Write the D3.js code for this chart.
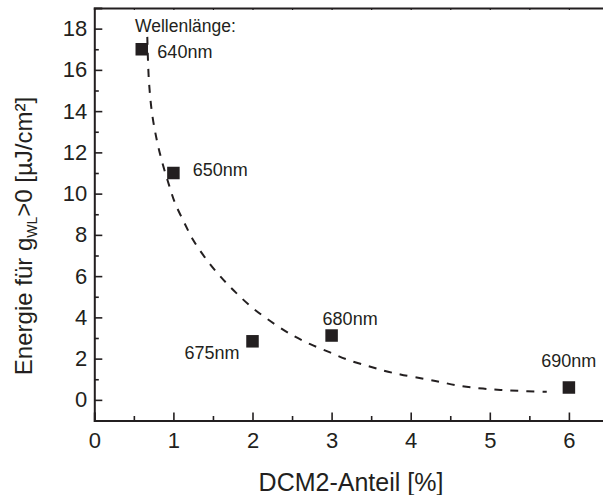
<!DOCTYPE html>
<html>
<head>
<meta charset="utf-8">
<script src="https://cdn.jsdelivr.net/npm/d3@7"></script>
<style>
  html, body { margin: 0; padding: 0; background: #fff; }
  svg { display: block; font-family: "Liberation Sans", Arial, sans-serif; }
</style>
</head>
<body>
<svg id="chart" width="603" height="495"></svg>
<script>
// ---- data ----
const dcm2 = [0.6, 1, 2, 3, 6];                 // DCM2-Anteil [%]
const energy = [17, 11, 2.84, 3.12, 0.6];       // Energie [µJ/cm²]
const wavelengths = ["640nm", "650nm", "675nm", "680nm", "690nm"];
const legendTitle = "Wellenlänge:";

// dashed fit curve
const fitX = [0.67, 0.69, 0.73, 0.79, 0.86, 0.95, 1.02, 1.13, 1.25, 1.40, 1.59, 1.79, 2.02, 2.29, 2.52, 2.73, 2.98, 3.20, 3.45, 3.66, 3.87, 4.17, 4.38, 4.59, 4.80, 5.03, 5.24, 5.47, 5.72];
const fitY = [17.6, 15.5, 13.9, 12.6, 11.5, 10.35, 9.55, 8.65, 7.75, 6.9, 6.0, 5.2, 4.4, 3.65, 3.1, 2.7, 2.3, 1.95, 1.65, 1.42, 1.23, 1.02, 0.86, 0.70, 0.59, 0.51, 0.46, 0.42, 0.39];

const xTicks = [0, 1, 2, 3, 4, 5, 6];
const yTicks = [0, 2, 4, 6, 8, 10, 12, 14, 16, 18];

const xTitle = "DCM2-Anteil [%]";

// ---- layout ----
const svg = d3.select("#chart");
const plotLeft = 94.3, plotTop = 8, plotBottom = 420.5;
const pxPerX = 79.1;
const x = d3.scaleLinear().domain([0, 6.5]).range([plotLeft, plotLeft + 6.5 * pxPerX]);
const y = d3.scaleLinear().domain([-1, 19]).range([plotBottom, plotTop]);

const ink = "#231f20";
const labelOffsets = [
  {dx: 15.6, dy: 9, anchor: "start"},
  {dx: 19.4, dy: 2.8, anchor: "start"},
  {dx: -13, dy: 17.3, anchor: "end"},
  {dx: -9, dy: -10.7, anchor: "start"},
  {dx: -27.6, dy: -21, anchor: "start"}
];

// minor tick arrays
const xMinor = d3.range(0, 6.51, 0.5).filter(v => !xTicks.includes(v));
const yMinor = d3.range(-1, 19.01, 1).filter(v => !yTicks.includes(v) && v > -1 && v < 19);

// bottom axis
const gx = svg.append("g").attr("transform", `translate(0,${plotBottom})`)
  .call(d3.axisBottom(x).tickValues(xTicks).tickFormat(d3.format("d")).tickSize(-8).tickPadding(12));
gx.select(".domain").attr("stroke", ink).attr("stroke-width", 2);
gx.selectAll(".tick line").attr("stroke", ink).attr("stroke-width", 1.6);
gx.selectAll(".tick text").attr("fill", ink).attr("font-size", 22)
  .attr("font-family", "Liberation Sans, Arial, sans-serif");
svg.append("g").attr("transform", `translate(0,${plotBottom})`)
  .call(d3.axisBottom(x).tickValues(xMinor).tickFormat("").tickSize(-4.5))
  .call(g => g.select(".domain").remove())
  .call(g => g.selectAll("line").attr("stroke", ink).attr("stroke-width", 1.6));

// top axis
const gt = svg.append("g").attr("transform", `translate(0,${plotTop})`)
  .call(d3.axisTop(x).tickValues(d3.range(0, 6.51, 0.5)).tickFormat("").tickSize(-2));
gt.select(".domain").attr("stroke", ink).attr("stroke-width", 2);
gt.selectAll("line").attr("stroke", ink).attr("stroke-width", 1.2);

// left axis
const gy = svg.append("g").attr("transform", `translate(${plotLeft},0)`)
  .call(d3.axisLeft(y).tickValues(yTicks).tickFormat(d3.format("d")).tickSize(-8).tickPadding(7));
gy.select(".domain").attr("stroke", ink).attr("stroke-width", 2);
gy.selectAll(".tick line").attr("stroke", ink).attr("stroke-width", 1.6);
gy.selectAll(".tick text").attr("fill", ink).attr("font-size", 22)
  .attr("font-family", "Liberation Sans, Arial, sans-serif");
svg.append("g").attr("transform", `translate(${plotLeft},0)`)
  .call(d3.axisLeft(y).tickValues(yMinor).tickFormat("").tickSize(-4.5))
  .call(g => g.select(".domain").remove())
  .call(g => g.selectAll("line").attr("stroke", ink).attr("stroke-width", 1.6));

// fit curve
const fitData = fitX.map((v, i) => [v, fitY[i]]);
svg.append("path")
  .datum(fitData)
  .attr("fill", "none")
  .attr("stroke", ink)
  .attr("stroke-width", 2)
  .attr("stroke-dasharray", "8,8")
  .attr("d", d3.line().x(d => x(d[0])).y(d => y(d[1])).curve(d3.curveCatmullRom));

// points
const pts = dcm2.map((v, i) => ({x: v, y: energy[i], label: wavelengths[i], off: labelOffsets[i]}));
const sq = 12.5;
svg.append("g").selectAll("rect").data(pts).join("rect")
  .attr("x", d => x(d.x) - sq / 2)
  .attr("y", d => y(d.y) - sq / 2)
  .attr("width", sq).attr("height", sq)
  .attr("fill", ink);

// labels
svg.append("g").selectAll("text").data(pts).join("text")
  .attr("x", d => x(d.x) + d.off.dx)
  .attr("y", d => y(d.y) + d.off.dy)
  .attr("text-anchor", d => d.off.anchor)
  .attr("font-size", 18)
  .attr("fill", ink)
  .text(d => d.label);

svg.append("text")
  .attr("x", x(dcm2[0]) - 6.7)
  .attr("y", y(energy[0]) - 17.6)
  .attr("font-size", 17.5)
  .attr("fill", ink)
  .text(legendTitle);

// axis titles
svg.append("text")
  .attr("x", 351).attr("y", 491)
  .attr("text-anchor", "middle")
  .attr("font-size", 25)
  .attr("fill", ink)
  .text(xTitle);

const yt = svg.append("text")
  .attr("transform", "translate(32,236) rotate(-90)")
  .attr("text-anchor", "middle")
  .attr("font-size", 24)
  .attr("fill", ink);
yt.append("tspan").text("Energie für g");
yt.append("tspan").attr("font-size", 14).attr("dy", 5).text("WL");
yt.append("tspan").attr("dy", -5).text(">0 [µJ/cm²]");
</script>
</body>
</html>
